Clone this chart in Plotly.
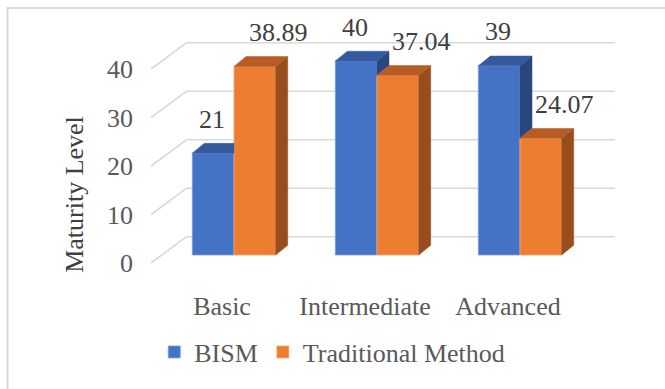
import plotly.graph_objects as go

# ---------------- data ----------------
categories = ["Basic", "Intermediate", "Advanced"]
series_names = ["BISM", "Traditional Method"]
bism = [21, 40, 39]
traditional = [38.89, 37.04, 24.07]
y_ticks = [0, 10, 20, 30, 40]
y_title = "Maturity Level"

# ---------------- style / geometry ----------------
FONT = "Liberation Serif"
FS = 26
front_col = ["#4472C4", "#ED7D31"]
top_col = ["#35599F", "#B65C24"]
side_col = ["#2A467F", "#994D1C"]
edge_col = ["#7F9FD9", "#F3A873"]

BAR_W = 0.2916          # width of one bar in category units
DX, DY = 0.084, 2.02    # bar depth (x units, value units)
X_RANGE = [-1.6364, 3.0140]
Y_RANGE = [-27.63, 52.58]
X_BACK_L, X_BACK_R, X_FRONT_L = -0.3308, 2.664, -0.580
BACK_DV, FRONT_DV = 3.77, -1.65

values = [bism, traditional]
xs = list(range(len(categories)))

fig = go.Figure()

# front faces
for s, name in enumerate(series_names):
    fig.add_trace(go.Bar(
        x=xs, y=values[s], name=name, width=BAR_W,
        offset=-BAR_W if s == 0 else 0,
        marker=dict(color=front_col[s], line=dict(color=edge_col[s], width=0.8)),
        hoverinfo="skip",
    ))

# 3D side and top faces, computed from the values
for i in xs:
    vals = [values[0][i], values[1][i]]
    lefts = [i - BAR_W, i]
    for s in range(2):
        v = vals[s]
        xl = lefts[s]
        xr = xl + BAR_W
        nxt = vals[s + 1] if s + 1 < 2 else None
        bottom = 0 if nxt is None else min(nxt, v)
        if v > bottom:
            px = [xr, xr, xr + DX, xr + DX, xr]
            py = [bottom, v, v + DY, bottom + DY, bottom]
            fig.add_trace(go.Scatter(x=px, y=py, mode="lines", fill="toself",
                                     fillcolor=side_col[s], line=dict(width=0.5, color=side_col[s]),
                                     showlegend=False, hoverinfo="skip"))
        if nxt is not None and nxt > v:
            px = [xl, xr, xr, xl + DX, xl]
            py = [v, v, v + DY, v + DY, v]
        else:
            px = [xl, xr, xr + DX, xl + DX, xl]
            py = [v, v, v + DY, v + DY, v]
        fig.add_trace(go.Scatter(x=px, y=py, mode="lines", fill="toself",
                                 fillcolor=top_col[s], line=dict(width=0.5, color=top_col[s]),
                                 showlegend=False, hoverinfo="skip"))

# back wall gridlines and floor diagonals
shapes = []
for t in y_ticks:
    shapes.append(dict(type="line", xref="x", yref="y", layer="below",
                       x0=X_BACK_L, x1=X_BACK_R, y0=t + BACK_DV, y1=t + BACK_DV,
                       line=dict(color="#D9D9D9", width=1.6)))
    shapes.append(dict(type="line", xref="x", yref="y", layer="below",
                       x0=X_FRONT_L, x1=X_BACK_L, y0=t + FRONT_DV, y1=t + BACK_DV,
                       line=dict(color="#D9D9D9", width=1.6)))
# chart border
shapes.append(dict(type="rect", xref="paper", yref="paper",
                   x0=7.5 / 665, x1=1.2, y0=-0.2, y1=1 - 8 / 389,
                   line=dict(color="#D9D9D9", width=2)))

# data labels
annotations = []
label_xshift = [-1, 24]
for s in range(2):
    for i in xs:
        v = values[s][i]
        cx = i - BAR_W / 2 if s == 0 else i + BAR_W / 2
        annotations.append(dict(x=cx, y=v, xref="x", yref="y", text=f"{v:g}",
                                showarrow=False, yanchor="middle", xanchor="center",
                                yshift=34, xshift=label_xshift[s],
                                font=dict(family=FONT, size=FS, color="#404040")))

fig.update_layout(
    width=665, height=389,
    margin=dict(l=0, r=0, t=0, b=0),
    paper_bgcolor="white", plot_bgcolor="white",
    barmode="overlay",
    showlegend=True,
    font=dict(family=FONT, size=FS, color="#595959"),
    legend=dict(orientation="h", x=0.232, y=0.095, xanchor="left", yanchor="middle",
                font=dict(family=FONT, size=FS, color="#595959"),
                itemwidth=30, bgcolor="rgba(0,0,0,0)"),
    shapes=shapes, annotations=annotations,
    xaxis=dict(range=X_RANGE, tickvals=xs, ticktext=categories,
               anchor="free", position=1 - 288 / 389,
               showgrid=False, zeroline=False, showline=False, ticks="",
               ticklabelshift=-12,
               tickfont=dict(family=FONT, size=FS, color="#595959"),
               automargin=False, fixedrange=True),
    yaxis=dict(range=Y_RANGE, tickvals=y_ticks,
               anchor="free", position=133 / 665,
               showgrid=False, zeroline=False, showline=False, ticks="",
               ticklabelshift=8,
               tickfont=dict(family=FONT, size=FS, color="#595959"),
               title=dict(text=y_title, standoff=14,
                          font=dict(family=FONT, size=FS, color="#404040")),
               automargin=False, fixedrange=True),
)

fig.write_html("out.html")
